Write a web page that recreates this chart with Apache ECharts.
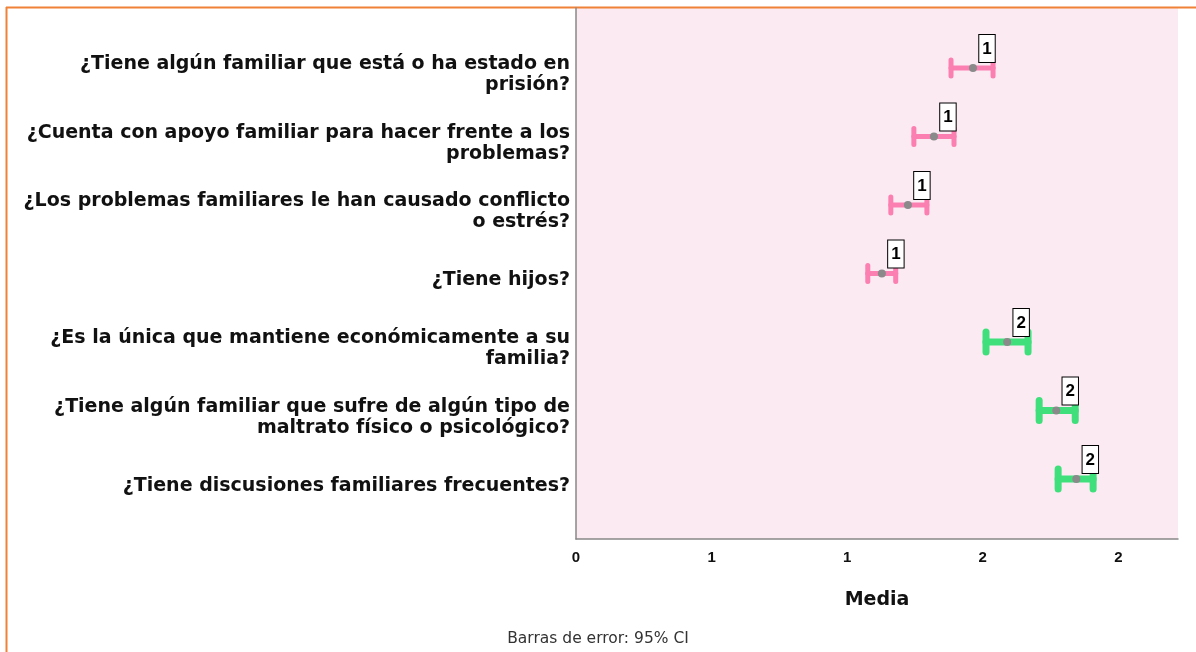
<!DOCTYPE html>
<html>
<head>
<meta charset="utf-8">
<script src="https://cdn.jsdelivr.net/npm/echarts@6/dist/echarts.min.js"></script>
<style>
  html, body { margin: 0; padding: 0; background: #fff; }
  #main { width: 1196px; height: 652px; }
</style>
</head>
<body>
<div id="main"></div>
<script>
// preguntas (de arriba a abajo)
var categories = [
  '¿Tiene algún familiar que está o ha estado en\nprisión?',
  '¿Cuenta con apoyo familiar para hacer frente a los\nproblemas?',
  '¿Los problemas familiares le han causado conflicto\no estrés?',
  '¿Tiene hijos?',
  '¿Es la única que mantiene económicamente a su\nfamilia?',
  '¿Tiene algún familiar que sufre de algún tipo de\nmaltrato físico o psicológico?',
  '¿Tiene discusiones familiares frecuentes?'
];
var means = [1.464, 1.320, 1.224, 1.128, 1.590, 1.771, 1.845];
var ciLow = [1.383, 1.246, 1.161, 1.076, 1.512, 1.708, 1.778];
var ciHigh = [1.538, 1.394, 1.294, 1.179, 1.667, 1.841, 1.907];
var groups = [1, 1, 1, 1, 2, 2, 2];

var colors = { 1: '#fb7fb0', 2: '#3fe07c' };

var myChart = echarts.init(document.getElementById('main'));

var barData = [], meanData = [], labelPos = [];
for (var i = 0; i < categories.length; i++) {
  barData.push({ value: [ciLow[i], ciHigh[i], i] });
  meanData.push({ value: [means[i], i] });
  labelPos.push(i + 0.1); // texto un poco por debajo de la barra, como en SPSS
}

myChart.setOption({
  animation: false,
  title: {
    text: 'Barras de error: 95% CI',
    left: 'center',
    top: 626,
    textStyle: { fontFamily: 'DejaVu Sans', fontSize: 15.5, fontWeight: 'normal', color: '#333' }
  },
  graphic: [
    { type: 'line', shape: { x1: 6.5, y1: 7, x2: 6.5, y2: 652 }, style: { stroke: '#ef8236', lineWidth: 2 } },
    { type: 'line', shape: { x1: 6, y1: 7.5, x2: 1196, y2: 7.5 }, style: { stroke: '#ef8236', lineWidth: 2 } }
  ],
  grid: {
    left: 576, right: 18, top: 8, bottom: 113,
    show: true, backgroundColor: '#fbeaf2', borderWidth: 0
  },
  xAxis: {
    type: 'value',
    min: 0, max: 2.22, interval: 0.5,
    name: 'Media',
    nameLocation: 'middle',
    nameGap: 52,
    nameTextStyle: { fontFamily: 'DejaVu Sans', fontSize: 19, fontWeight: 'bold', color: '#111' },
    axisLine: { show: true, onZero: false, lineStyle: { color: '#888', width: 1.5 } },
    axisTick: { show: false },
    splitLine: { show: false },
    axisLabel: {
      margin: 11,
      fontFamily: 'Liberation Sans', fontSize: 15, fontWeight: 'bold', color: '#111',
      showMaxLabel: false,
      formatter: function (v) { return String(Math.round(v)); }
    }
  },
  yAxis: {
    type: 'value',
    inverse: true,
    min: -0.876, max: 6.876,
    axisLine: { show: true, onZero: false, lineStyle: { color: '#888', width: 1.5 } },
    axisTick: { show: false },
    splitLine: { show: false },
    axisLabel: {
      customValues: labelPos,
      margin: 6,
      fontFamily: 'DejaVu Sans', fontSize: 19, fontWeight: 'bold', color: '#111',
      lineHeight: 21,
      formatter: function (v) { return categories[Math.round(v)] || ''; }
    }
  },
  series: [
    {
      type: 'custom',
      encode: { x: [0, 1], y: 2 },
      data: barData,
      z: 3,
      renderItem: function (params, api) {
        var g = groups[params.dataIndex];
        var p1 = api.coord([api.value(0), api.value(2)]);
        var p2 = api.coord([api.value(1), api.value(2)]);
        var w = g === 1 ? 5 : 7;
        var h = g === 1 ? 8 : 10;
        var style = { stroke: colors[g], lineWidth: w, lineCap: 'round' };
        return {
          type: 'group',
          children: [
            { type: 'line', shape: { x1: p1[0], y1: p1[1], x2: p2[0], y2: p2[1] }, style: style },
            { type: 'line', shape: { x1: p1[0], y1: p1[1] - h, x2: p1[0], y2: p1[1] + h }, style: style },
            { type: 'line', shape: { x1: p2[0], y1: p2[1] - h, x2: p2[0], y2: p2[1] + h }, style: style }
          ]
        };
      }
    },
    {
      type: 'scatter',
      data: meanData,
      z: 4,
      symbol: 'circle',
      symbolSize: 8,
      itemStyle: { color: '#8a8a8a', opacity: 1 },
      label: {
        show: true,
        position: 'top',
        distance: 2,
        offset: [14, 0],
        formatter: function (p) { return String(Math.round(p.value[0])); },
        fontFamily: 'Liberation Sans', fontSize: 17, fontWeight: 'bold', color: '#000',
        lineHeight: 20,
        padding: [4, 3, 3, 3],
        backgroundColor: '#fff',
        borderColor: '#000',
        borderWidth: 1
      }
    }
  ]
});
</script>
</body>
</html>
